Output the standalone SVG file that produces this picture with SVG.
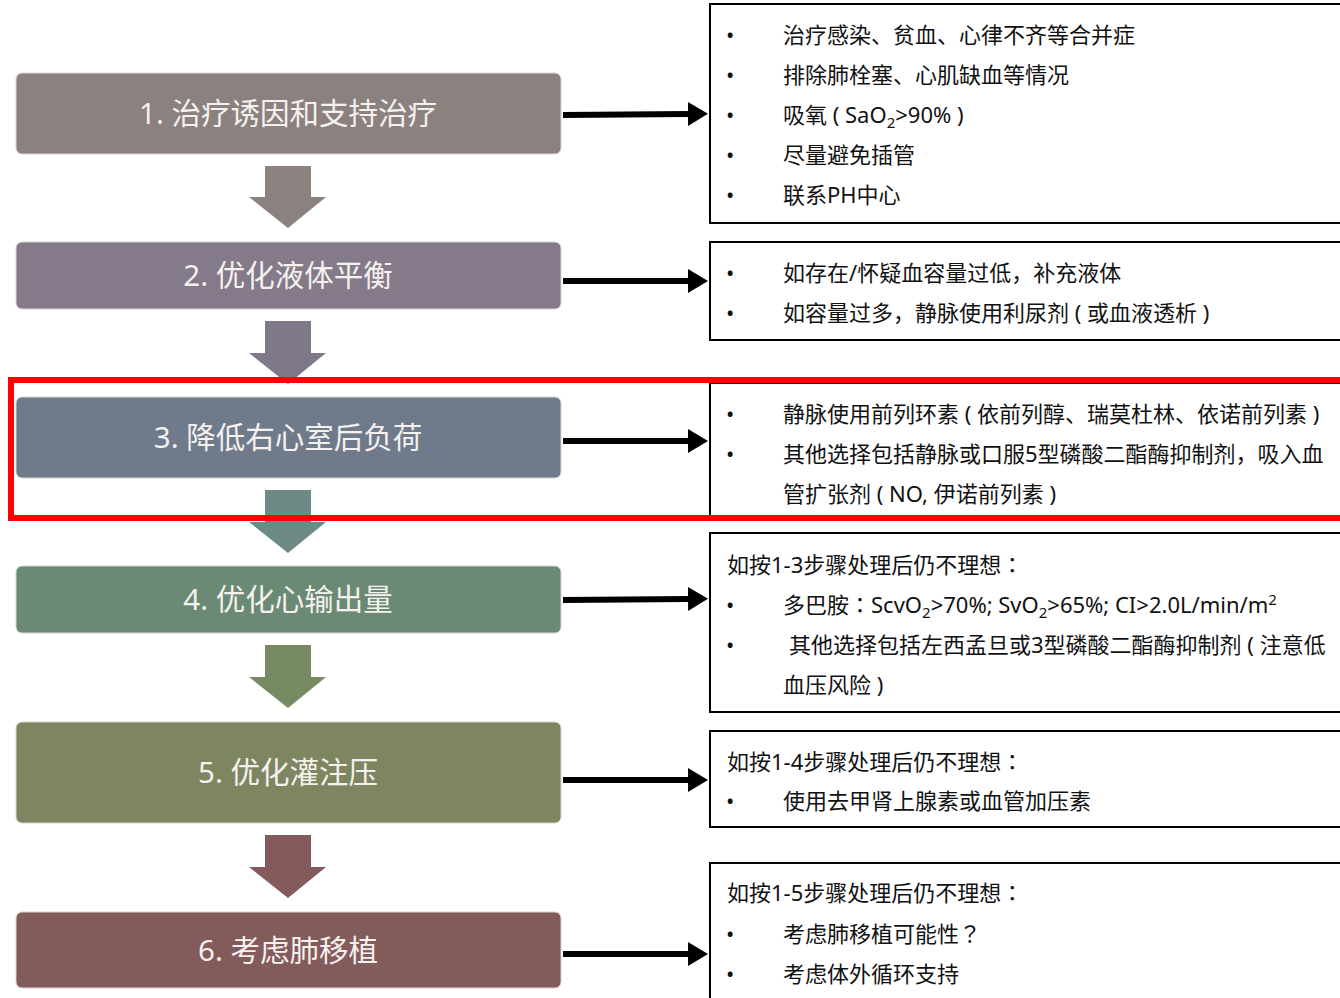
<svg xmlns="http://www.w3.org/2000/svg" width="1340" height="998" viewBox="0 0 1340 998">
<defs>
<style>
.step{stroke:#d9d4d2;stroke-width:1}
.stxt{font-family:"Noto Sans","Noto Sans CJK SC",sans-serif;font-size:29.5px;fill:#f4f1ee;text-anchor:middle}
.pane{fill:#fff;stroke:#000;stroke-width:2}
.t{font-family:"Noto Sans","Noto Sans CJK SC",sans-serif;font-size:22px;fill:#111}
.p{font-family:"Noto Sans CJK TC",sans-serif}
.hl{fill:none;stroke:#000;stroke-width:6}
</style>
<marker id="ah" markerUnits="userSpaceOnUse" markerWidth="20" markerHeight="24" refX="0" refY="12" orient="auto">
<path d="M0,0 L20,12 L0,24 Z" fill="#000"/>
</marker>
</defs>
<rect width="1340" height="998" fill="#fff"/>

<g id="connectors">
<polygon points="265,166 311,166 311,197 326,197 288,228 249,197 265,197" fill="#8b8280"/>
<polygon points="265,321 311,321 311,353 326,353 288,384 249,353 265,353" fill="#7f788b"/>
<polygon points="265,490 311,490 311,522 326,522 288,553 249,522 265,522" fill="#6d8a86"/>
<polygon points="265,645 311,645 311,677 326,677 288,708 249,677 265,677" fill="#778a64"/>
<polygon points="265,835 311,835 311,867 326,867 288,898 249,867 265,867" fill="#845a5a"/>
<line class="hl" x1="563" y1="115" x2="688" y2="114" marker-end="url(#ah)"/>
<line class="hl" x1="563" y1="281" x2="688" y2="281" marker-end="url(#ah)"/>
<line class="hl" x1="563" y1="441" x2="688" y2="441" marker-end="url(#ah)"/>
<line class="hl" x1="563" y1="600" x2="688" y2="599" marker-end="url(#ah)"/>
<line class="hl" x1="563" y1="780" x2="688" y2="780" marker-end="url(#ah)"/>
<line class="hl" x1="563" y1="954" x2="688" y2="954" marker-end="url(#ah)"/>
</g>

<g id="step1">
<rect class="step" x="16" y="73" width="545" height="81" rx="6" fill="#8b8280"/>
<text class="stxt" x="288" y="124">1. 治疗诱因和支持治疗</text>
</g>
<g id="step2">
<rect class="step" x="16" y="242" width="545" height="67" rx="6" fill="#857a8a"/>
<text class="stxt" x="288" y="286">2. 优化液体平衡</text>
</g>
<g id="step3">
<rect class="step" x="16" y="397" width="545" height="81" rx="6" fill="#6f7b8b"/>
<text class="stxt" x="288" y="448">3. 降低右心室后负荷</text>
</g>
<g id="step4">
<rect class="step" x="16" y="566" width="545" height="67" rx="6" fill="#6a8a76"/>
<text class="stxt" x="288" y="610">4. 优化心输出量</text>
</g>
<g id="step5">
<rect class="step" x="16" y="722" width="545" height="101" rx="6" fill="#7e8661"/>
<text class="stxt" x="288" y="783">5. 优化灌注压</text>
</g>
<g id="step6">
<rect class="step" x="16" y="912" width="545" height="76" rx="6" fill="#845b5b"/>
<text class="stxt" x="288" y="961">6. 考虑肺移植</text>
</g>

<g id="note1">
<rect class="pane" x="710" y="4" width="700" height="219"/>
<text class="t" x="726" y="43">•</text><text class="t" x="783" y="43">治疗感染、贫血、心律不齐等合并症</text>
<text class="t" x="726" y="83">•</text><text class="t" x="783" y="83">排除肺栓塞、心肌缺血等情况</text>
<text class="t" x="726" y="123">•</text><text class="t" x="783" y="123">吸氧 ( SaO<tspan font-size="15" dy="5">2</tspan><tspan dy="-5">&gt;90% )</tspan></text>
<text class="t" x="726" y="163">•</text><text class="t" x="783" y="163">尽量避免插管</text>
<text class="t" x="726" y="203">•</text><text class="t" x="783" y="203">联系PH中心</text>
</g>
<g id="note2">
<rect class="pane" x="710" y="242" width="700" height="98"/>
<text class="t" x="726" y="281">•</text><text class="t" x="783" y="281">如存在/怀疑血容量过低，补充液体</text>
<text class="t" x="726" y="321">•</text><text class="t" x="783" y="321">如容量过多，静脉使用利尿剂 ( 或血液透析 )</text>
</g>
<g id="note3">
<rect class="pane" x="710" y="383" width="700" height="136"/>
<text class="t" x="726" y="422">•</text><text class="t" x="783" y="422">静脉使用前列环素 ( 依前列醇、瑞莫杜林、依诺前列素 )</text>
<text class="t" x="726" y="462">•</text><text class="t" x="783" y="462">其他选择包括静脉或口服5型磷酸二酯酶抑制剂，吸入血</text>
<text class="t" x="783" y="502">管扩张剂 ( NO, 伊诺前列素 )</text>
</g>
<g id="note4">
<rect class="pane" x="710" y="533" width="700" height="179"/>
<text class="t" x="727" y="573">如按1-3步骤处理后仍不理想<tspan class="p">：</tspan></text>
<text class="t" x="726" y="613">•</text><text class="t" x="783" y="613">多巴胺<tspan class="p">：</tspan>ScvO<tspan font-size="15" dy="5">2</tspan><tspan dy="-5">&gt;70%; SvO</tspan><tspan font-size="15" dy="5">2</tspan><tspan dy="-5">&gt;65%; CI&gt;2.0L/min/m</tspan><tspan font-size="15" dy="-8">2</tspan></text>
<text class="t" x="726" y="653">•</text><text class="t" x="789" y="653">其他选择包括左西孟旦或3型磷酸二酯酶抑制剂 ( 注意低</text>
<text class="t" x="783" y="693">血压风险 )</text>
</g>
<g id="note5">
<rect class="pane" x="710" y="731" width="700" height="96"/>
<text class="t" x="727" y="770">如按1-4步骤处理后仍不理想<tspan class="p">：</tspan></text>
<text class="t" x="726" y="809">•</text><text class="t" x="783" y="809">使用去甲肾上腺素或血管加压素</text>
</g>
<g id="note6">
<rect class="pane" x="710" y="863" width="700" height="160"/>
<text class="t" x="727" y="901">如按1-5步骤处理后仍不理想<tspan class="p">：</tspan></text>
<text class="t" x="726" y="942">•</text><text class="t" x="783" y="942">考虑肺移植可能性<tspan class="p">？</tspan></text>
<text class="t" x="726" y="982">•</text><text class="t" x="783" y="982">考虑体外循环支持</text>
</g>

<g id="highlight">
<rect x="11" y="380" width="1400" height="138" fill="none" stroke="#ff0000" stroke-width="6"/>
</g>
</svg>
